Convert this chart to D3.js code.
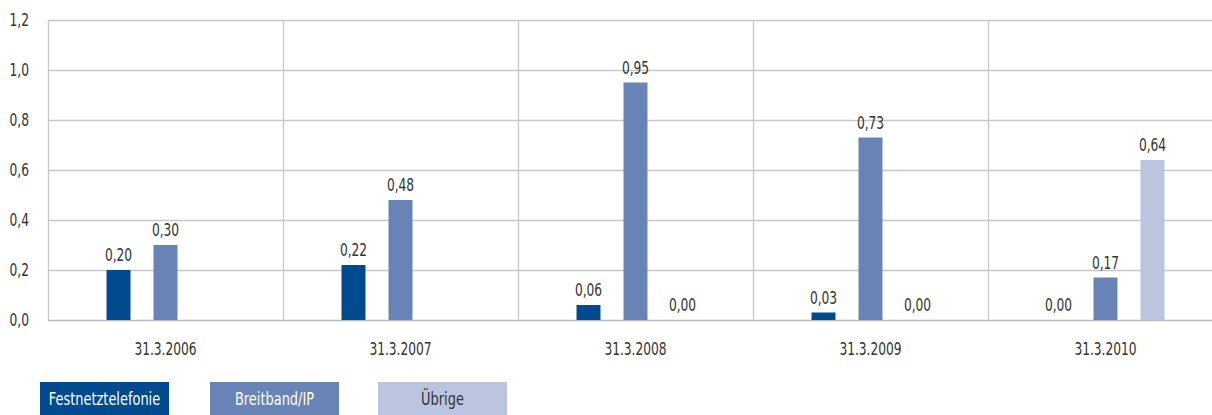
<!DOCTYPE html>
<html>
<head>
<meta charset="utf-8">
<script src="https://cdn.jsdelivr.net/npm/d3@7"></script>
<style>
  body { margin: 0; background: #fff; }
  svg text { font-family: "DejaVu Sans Condensed", "Roboto", sans-serif; fill: #333; }
</style>
</head>
<body>
<div id="chart"></div>
<script>
// chart data
var categories = ["31.3.2006", "31.3.2007", "31.3.2008", "31.3.2009", "31.3.2010"];
var series = ["Festnetztelefonie", "Breitband/IP", "Übrige"];
var festnetz = [0.20, 0.22, 0.06, 0.03, 0.00];
var breitband = [0.30, 0.48, 0.95, 0.73, 0.17];
var uebrige = [null, null, 0.00, 0.00, 0.64];
var y_ticks = [0, 0.2, 0.4, 0.6, 0.8, 1.0, 1.2];

var colors = ["#004a8d", "#6884b7", "#bcc5e0"];
var legend_text_colors = ["#fff", "#fff", "#333"];

var width = 1212;
var height = 415;
var plot_left = 48, plot_right = 1223, plot_top = 20, plot_bottom = 320;

// the original font is a narrow DIN face, squeeze the text a bit
var squeeze = 0.8;

var values = [festnetz, breitband, uebrige];

var svg = d3.select("#chart").append("svg")
	.attr("width", width)
	.attr("height", height);

var x = d3.scaleBand().domain(categories).range([plot_left, plot_right]);
var x_inner = d3.scaleBand().domain(series)
	.range([47, 188])
	.paddingInner(0.49)
	.paddingOuter(0.245);
var y = d3.scaleLinear().domain([0, 1.2]).range([plot_bottom, plot_top]);

var fmt = function(v) { return d3.format(".2f")(v).replace(".", ","); };
var fmt_tick = function(v) { return d3.format(".1f")(v).replace(".", ","); };

function add_text(parent, tx, ty, str, anchor, size) {
	return parent.append("text")
		.attr("transform", "translate(" + tx + "," + ty + ") scale(" + squeeze + ",1)")
		.attr("text-anchor", anchor)
		.style("font-size", size + "px")
		.text(str);
}

// horizontal grid
var grid = svg.append("g");
y_ticks.forEach(function(t) {
	grid.append("line")
		.attr("x1", plot_left)
		.attr("x2", plot_right)
		.attr("y1", y(t) + 0.5)
		.attr("y2", y(t) + 0.5)
		.style("stroke", t == 0 ? "#b8b8c0" : "#c8c8c8")
		.style("stroke-width", 1.3);
});

// vertical separators between categories
categories.forEach(function(c) {
	grid.append("line")
		.attr("x1", x(c) + 0.5)
		.attr("x2", x(c) + 0.5)
		.attr("y1", plot_top)
		.attr("y2", plot_bottom)
		.style("stroke", "#c8c8c8")
		.style("stroke-width", 1.3);
});

// y tick labels
var yg = svg.append("g");
y_ticks.forEach(function(t) {
	add_text(yg, 29, y(t), fmt_tick(t), "end", 17).attr("dy", "0.35em");
});

// x labels
var xg = svg.append("g");
categories.forEach(function(c) {
	add_text(xg, x(c) + x.bandwidth() / 2, 355, c, "middle", 17);
});

// bars and value labels
series.forEach(function(s, si) {
	var pts = [];
	values[si].forEach(function(v, ci) {
		if (v != null) pts.push({ cat: categories[ci], v: v });
	});

	var g = svg.append("g");
	g.selectAll("rect").data(pts).enter().append("rect")
		.attr("x", function(d) { return x(d.cat) + x_inner(s); })
		.attr("width", x_inner.bandwidth())
		.attr("y", function(d) { return y(d.v); })
		.attr("height", function(d) { return plot_bottom - y(d.v); })
		.style("fill", colors[si]);

	pts.forEach(function(d) {
		add_text(g, x(d.cat) + x_inner(s) + x_inner.bandwidth() / 2, y(d.v) - 9, fmt(d.v), "middle", 17);
	});
});

// legend
var legend_x = [40, 210, 378];
var legend = svg.append("g");
series.forEach(function(s, si) {
	legend.append("rect")
		.attr("x", legend_x[si])
		.attr("y", 382)
		.attr("width", 129)
		.attr("height", 33)
		.style("fill", colors[si]);
	add_text(legend, legend_x[si] + 64.5, 399, s, "middle", 18)
		.attr("dy", "0.35em")
		.style("fill", legend_text_colors[si]);
});
</script>
</body>
</html>
